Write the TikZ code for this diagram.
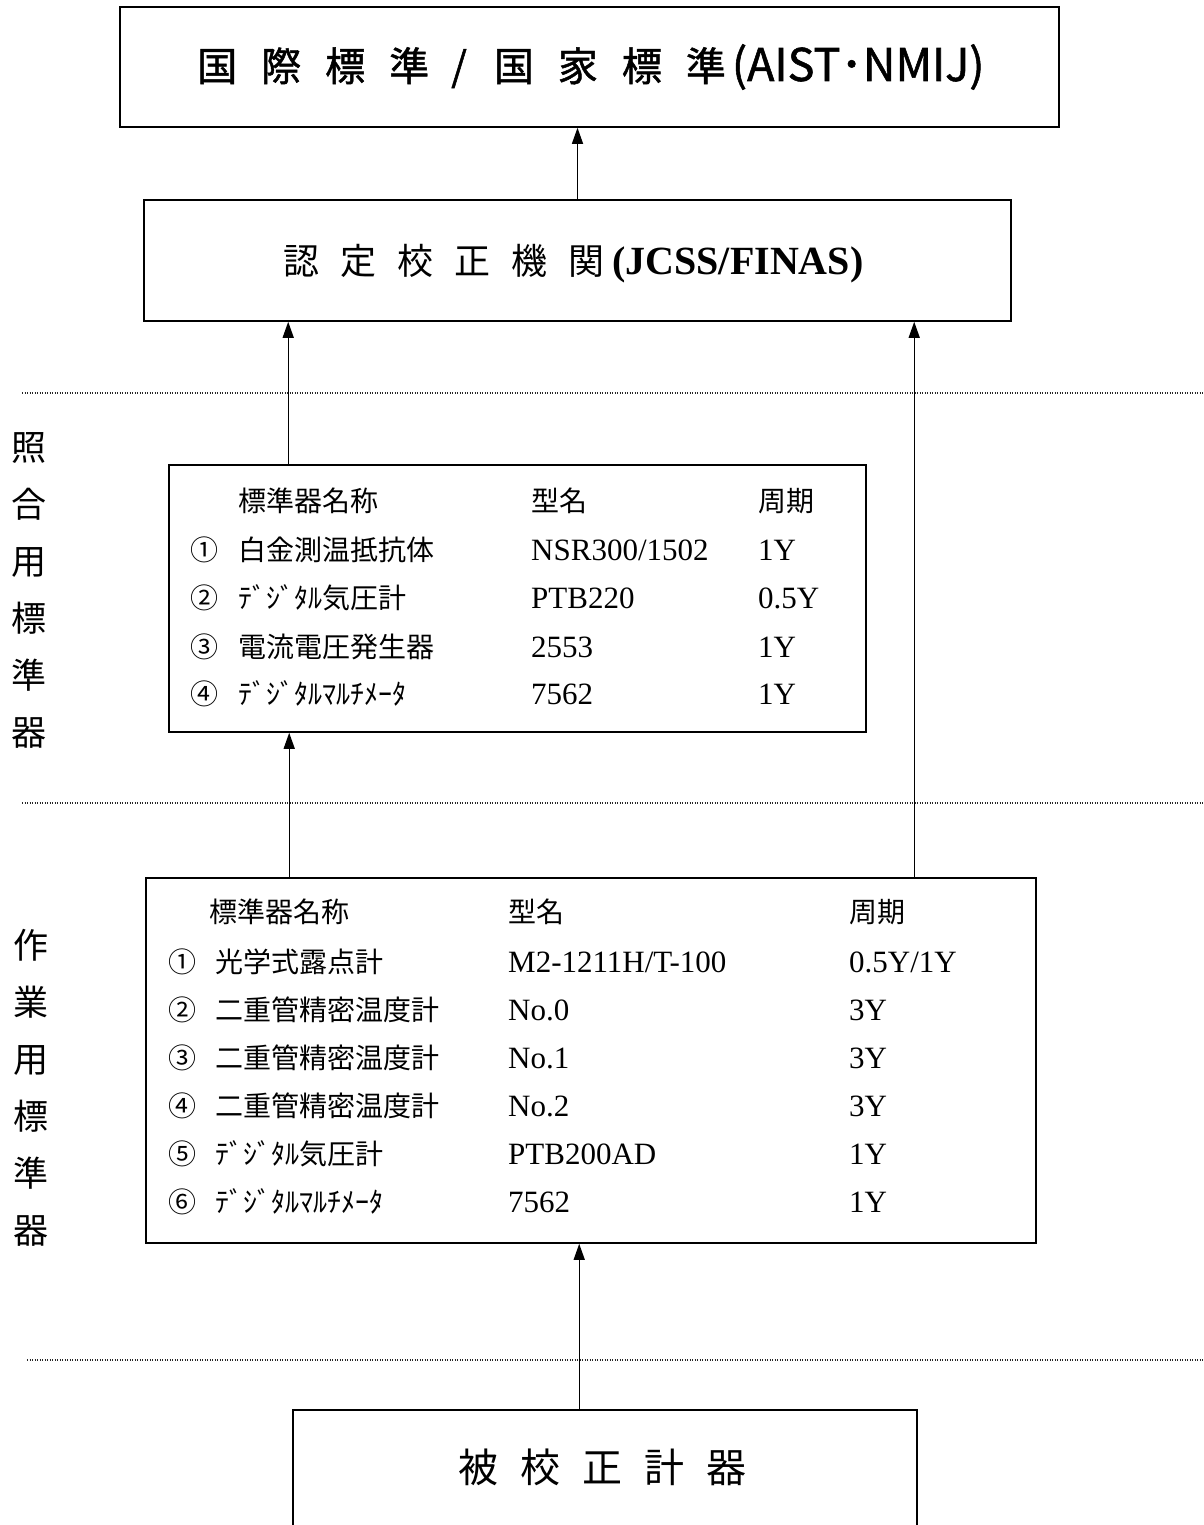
\documentclass[tikz,border=0pt]{standalone}
\usepackage{fontspec}
\setmainfont{Liberation Serif}
\newfontfamily\jp{Noto Sans CJK JP}
\newfontfamily\jpb{Noto Sans CJK JP}[FakeBold=1.2]
\usetikzlibrary{arrows.meta}
\begin{document}
\begin{tikzpicture}[x=1pt,y=-1pt,
  box/.style={draw, line width=1.6pt, inner sep=0pt, rectangle},
  arr/.style={line width=1.4pt, -{Triangle[width=11pt,length=16pt]}},
  sepline/.style={line width=1.3pt, dash pattern=on 1pt off 1.5pt, black!85},
  jt/.style={font=\jp\fontsize{28}{28}\selectfont, anchor=base west, inner sep=0pt},
  lt/.style={font=\fontsize{31}{31}\selectfont, anchor=base west, inner sep=0pt},
  vlab/.style={font=\jp\fontsize{35}{57}\selectfont, align=center, inner sep=0pt}]
\useasboundingbox (0,0) rectangle (1203,1525);
\fill[white] (0,0) rectangle (1203,1525);
% separators
\draw[sepline] (22,393) -- (1203,393);
\draw[sepline] (22,803) -- (1203,803);
\draw[sepline] (27,1360) -- (1203,1360);
% boxes
\node[box, minimum width=939pt, minimum height=120pt] (b1) at (589.5,67) {};
\node[box, minimum width=867pt, minimum height=121pt] (b2) at (577.5,260.5) {};
\node[box, minimum width=697pt, minimum height=267pt] (b3) at (517.5,598.5) {};
\node[box, minimum width=890pt, minimum height=365pt] (b4) at (591,1060.5) {};
\node[box, minimum width=624pt, minimum height=190pt] (b5) at (605,1505) {};
% titles
\node[anchor=base west, inner sep=0pt, font=\jpb\fontsize{40}{40}\selectfont] (t1) at (197,81)
  {国\hspace{24pt}際\hspace{24pt}標\hspace{24pt}準\hspace{22pt}/\hspace{27pt}国\hspace{24pt}家\hspace{24pt}標\hspace{24pt}準\hspace{6pt}{\fontsize{45}{45}\selectfont (AIST･NMIJ)}};
\node[anchor=base west, inner sep=0pt] (t2) at (283,274)
  {\jp\fontsize{36}{36}\selectfont 認\hspace{21pt}定\hspace{21pt}校\hspace{21pt}正\hspace{21pt}機\hspace{21pt}関\hspace{8pt}\rmfamily\bfseries\fontsize{40}{40}\selectfont (JCSS/FINAS)};
\node[anchor=base west, inner sep=0pt, font=\jp\fontsize{40}{40}\selectfont] (t5) at (458,1482)
  {被\hspace{22pt}校\hspace{22pt}正\hspace{22pt}計\hspace{22pt}器};
% vertical labels
\node[vlab] (v1) at (29,590.5) {照\\合\\用\\標\\準\\器};
\node[vlab] (v2) at (31,1087.5) {作\\業\\用\\標\\準\\器};
% table 1
\node[jt] (h1a) at (238,511) {標準器名称};
\node[jt] (h1b) at (531,511) {型名};
\node[jt] (h1c) at (758,511) {周期};
\node[jt] (r1n) at (190,560) {①};
\node[jt] (r1a) at (238,560) {白金測温抵抗体};
\node[lt] (r1b) at (531,560) {NSR300/1502};
\node[lt] (r1c) at (758,560) {1Y};
\node[jt] (r2n) at (190,608) {②};
\node[jt] (r2a) at (238,608) {ﾃﾞｼﾞﾀﾙ気圧計};
\node[lt] (r2b) at (531,608) {PTB220};
\node[lt] (r2c) at (758,608) {0.5Y};
\node[jt] (r3n) at (190,657) {③};
\node[jt] (r3a) at (238,657) {電流電圧発生器};
\node[lt] (r3b) at (531,657) {2553};
\node[lt] (r3c) at (758,657) {1Y};
\node[jt] (r4n) at (190,704) {④};
\node[jt] (r4a) at (238,704) {ﾃﾞｼﾞﾀﾙﾏﾙﾁﾒｰﾀ};
\node[lt] (r4b) at (531,704) {7562};
\node[lt] (r4c) at (758,704) {1Y};
% table 2
\node[jt] (h2a) at (209,922) {標準器名称};
\node[jt] (h2b) at (508,922) {型名};
\node[jt] (h2c) at (849,922) {周期};
\node[jt] (s1n) at (168,972) {①};
\node[jt] (s1a) at (215,972) {光学式露点計};
\node[lt] (s1b) at (508,972) {M2-1211H/T-100};
\node[lt] (s1c) at (849,972) {0.5Y/1Y};
\node[jt] (s2n) at (168,1020) {②};
\node[jt] (s2a) at (215,1020) {二重管精密温度計};
\node[lt] (s2b) at (508,1020) {No.0};
\node[lt] (s2c) at (849,1020) {3Y};
\node[jt] (s3n) at (168,1068) {③};
\node[jt] (s3a) at (215,1068) {二重管精密温度計};
\node[lt] (s3b) at (508,1068) {No.1};
\node[lt] (s3c) at (849,1068) {3Y};
\node[jt] (s4n) at (168,1116) {④};
\node[jt] (s4a) at (215,1116) {二重管精密温度計};
\node[lt] (s4b) at (508,1116) {No.2};
\node[lt] (s4c) at (849,1116) {3Y};
\node[jt] (s5n) at (168,1164) {⑤};
\node[jt] (s5a) at (215,1164) {ﾃﾞｼﾞﾀﾙ気圧計};
\node[lt] (s5b) at (508,1164) {PTB200AD};
\node[lt] (s5c) at (849,1164) {1Y};
\node[jt] (s6n) at (168,1212) {⑥};
\node[jt] (s6a) at (215,1212) {ﾃﾞｼﾞﾀﾙﾏﾙﾁﾒｰﾀ};
\node[lt] (s6b) at (508,1212) {7562};
\node[lt] (s6c) at (849,1212) {1Y};
% connectors
\coordinate (a32) at ([xshift=120pt]b3.north west);
\coordinate (a42) at ([xshift=769pt]b4.north west);
\coordinate (a43) at ([xshift=144pt]b4.north west);
\coordinate (a54) at ([xshift=287pt]b5.north west);
\draw[arr] (b2.north) -- (b2.north |- b1.south);
\draw[arr] (a32) -- (a32 |- b2.south);
\draw[arr] (a42) -- (a42 |- b2.south);
\draw[arr] (a43) -- (a43 |- b3.south);
\draw[arr] (a54) -- (a54 |- b4.south);
\end{tikzpicture}
\end{document}
